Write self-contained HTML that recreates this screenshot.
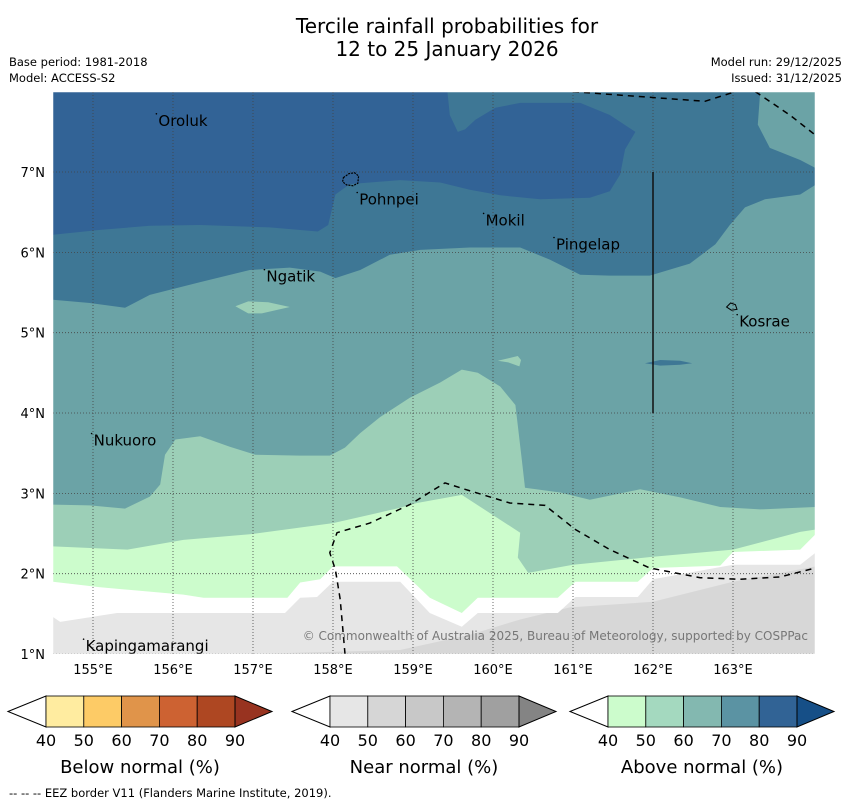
<!DOCTYPE html>
<html><head><meta charset="utf-8">
<style>
body{margin:0;background:#fff;}
svg{display:block;font-family:"DejaVu Sans","Liberation Sans",sans-serif;}
</style></head>
<body>
<svg id="chart" width="850" height="804" viewBox="0 0 850 804" xmlns="http://www.w3.org/2000/svg">
<text x="447" y="33" font-size="20" text-anchor="middle">Tercile rainfall probabilities for</text>
<text x="447" y="56" font-size="20" text-anchor="middle">12 to 25 January 2026</text>
<text x="9" y="66" font-size="11.5">Base period: 1981-2018</text>
<text x="9" y="82" font-size="11.5">Model: ACCESS-S2</text>
<text x="842" y="66" font-size="11.5" text-anchor="end">Model run: 29/12/2025</text>
<text x="842" y="82" font-size="11.5" text-anchor="end">Issued: 31/12/2025</text>
<defs><clipPath id="mapclip"><rect x="53" y="92" width="762" height="562"/></clipPath></defs>
<g id="map" clip-path="url(#mapclip)"></g>
<g id="overlay"></g>
<g id="cbars"></g>
<text x="9" y="797" font-size="11.5">--  --  -- EEZ border V11 (Flanders Marine Institute, 2019).</text>
</svg>
<script>
// ---- data (lon/lat) ----
const lonTicks = [155,156,157,158,159,160,161,162,163];
const latTicks = [1,2,3,4,5,6,7];
const darkGrayRegion = [[156.96,1.0],[158.84,1.05],[159.71,1.24],[160.34,1.43],[160.96,1.58],[162.0,1.65],[163.0,1.9],[164.03,2.09],[164.03,1.0]];
const whiteBottom = [[154.5,1.46],[154.59,1.40],[155.3,1.51],[157.4,1.51],[157.59,1.70],[157.8,1.71],[158.0,1.90],[158.84,1.90],[159.21,1.51],[159.61,1.34],[159.81,1.51],[160.81,1.51],[161.03,1.71],[161.81,1.71],[162.0,1.93],[163.0,2.11],[163.84,2.11],[164.03,2.26]];
const paleGreenBottom = [[154.5,1.9],[155.09,1.83],[156.13,1.74],[156.38,1.70],[157.43,1.70],[157.59,1.89],[157.84,1.93],[158.0,2.09],[158.8,2.09],[159.21,1.70],[159.61,1.51],[159.81,1.70],[160.81,1.70],[161.03,1.90],[161.81,1.90],[162.0,2.07],[162.84,2.10],[163.0,2.27],[163.84,2.30],[164.03,2.49]];
const lightGreenBottom = [[154.5,2.34],[155.43,2.3],[156.13,2.42],[156.96,2.49],[158.0,2.63],[158.84,2.82],[159.05,2.88],[159.61,2.98],[160.34,2.51],[160.31,2.2],[160.44,2.01],[161.0,2.11],[162.0,2.21],[163.0,2.3],[163.84,2.52],[164.03,2.55]];
const tealBottom = [[154.5,2.86],[154.96,2.85],[155.4,2.81],[155.71,2.96],[155.84,3.11],[155.9,3.48],[156.03,3.67],[156.34,3.71],[156.71,3.58],[157.03,3.48],[157.59,3.47],[157.96,3.47],[158.15,3.57],[158.34,3.75],[158.59,3.95],[158.96,4.19],[159.34,4.38],[159.61,4.54],[159.81,4.5],[160.09,4.33],[160.28,4.1],[160.36,3.42],[160.4,3.07],[160.84,3.01],[161.21,2.92],[161.84,3.05],[162.34,2.95],[162.84,2.83],[163.34,2.8],[164.03,2.83]];
const midBlueRegion = [[154.5,5.41],[154.96,5.37],[155.4,5.31],[155.71,5.47],[156.34,5.63],[156.96,5.78],[157.46,5.81],[157.84,5.76],[158.03,5.68],[158.34,5.78],[158.71,5.97],[159.09,6.03],[159.71,6.06],[160.34,6.06],[160.71,5.91],[161.09,5.72],[161.46,5.71],[161.96,5.71],[162.46,5.86],[162.78,6.1],[162.96,6.34],[163.15,6.56],[163.4,6.66],[163.84,6.72],[164.03,6.84],[164.03,7.05],[163.84,7.15],[163.46,7.3],[163.31,7.59],[163.34,8.0],[154.5,8.0]];
const darkBlueRegion = [[154.5,8],[159.43,8],[159.46,7.71],[159.56,7.5],[159.65,7.53],[159.78,7.65],[160.03,7.8],[160.34,7.86],[161.09,7.86],[161.46,7.71],[161.78,7.5],[161.65,7.28],[161.59,6.97],[161.46,6.76],[161.21,6.68],[160.59,6.66],[160.09,6.71],[159.71,6.78],[159.34,6.87],[158.84,6.9],[158.21,6.85],[158.03,6.72],[157.94,6.34],[157.81,6.26],[157.21,6.31],[156.34,6.34],[155.71,6.33],[155.09,6.28],[154.5,6.22]];
const paleBlob = [[156.78,5.33],[156.94,5.39],[157.19,5.38],[157.46,5.32],[157.11,5.24],[156.94,5.24]];
const greenBlob = [[160.06,4.65],[160.31,4.71],[160.35,4.66],[160.33,4.58],[160.19,4.63]];
const blueBlob = [[161.9,4.62],[162.09,4.66],[162.34,4.65],[162.49,4.62],[162.34,4.6],[162.09,4.59]];
const eezMain = [[158.15,1.0],[158.09,1.68],[158.03,2.05],[157.96,2.26],[158.05,2.51],[158.46,2.63],[158.96,2.86],[159.4,3.13],[159.65,3.05],[160.21,2.88],[160.65,2.85],[161.03,2.55],[161.46,2.3],[161.96,2.07],[162.59,1.95],[163.09,1.93],[163.59,1.96],[164.03,2.07]];
const eezTop = [[161.0,8.0],[162.65,7.88],[163.09,8.02]];
const eezRight = [[163.28,8.0],[163.71,7.71],[164.03,7.46]];
const boundaryLine = [[162.0,7.0],[162.0,4.0]];
const islandNames = ["Oroluk","Pohnpei","Mokil","Pingelap","Ngatik","Kosrae","Nukuoro","Kapingamarangi"];
const islandLon = [155.78,158.29,159.87,160.75,157.13,163.04,154.97,154.87];
const islandLat = [7.7,6.72,6.46,6.16,5.76,5.2,3.72,1.16];
const pohnpeiShape = [[158.13,6.93],[158.2,6.98],[158.27,6.99],[158.32,6.95],[158.31,6.86],[158.25,6.83],[158.17,6.84],[158.12,6.88]];
const kosraeShape = [[162.92,5.32],[162.97,5.37],[163.03,5.35],[163.05,5.29],[162.98,5.28]];
// colorbar data
const cbTicks = ["40","50","60","70","80","90"];
const cbTitles = ["Below normal (%)","Near normal (%)","Above normal (%)"];
const cbBelow = ["#ffeca0","#fdcb66","#e0944a","#cd6232","#ae4722","#983320"];
const cbNear = ["#e6e6e6","#d6d6d6","#c8c8c8","#b4b4b4","#a0a0a0","#848484"];
const cbAbove = ["#ccfccc","#a4d9bf","#83b8b0","#5b93a3","#316395","#164f87"];

const NS="http://www.w3.org/2000/svg";
const X = lon => 93 + (lon-155)*80;
const Y = lat => 654 - (lat-1)*80.33;
const map=document.getElementById('map'), ov=document.getElementById('overlay'), cb=document.getElementById('cbars');
function mk(tag, attrs, parent){const e=document.createElementNS(NS,tag);for(const k in attrs)e.setAttribute(k,attrs[k]);parent.appendChild(e);return e;}
const pts = arr => arr.map(p=>X(p[0]).toFixed(1)+','+Y(p[1]).toFixed(1)).join(' ');
function north(arr){return arr.concat([[164.1,arr[arr.length-1][1]],[164.1,8.1],[154.4,8.1],[154.4,arr[0][1]]]);}

let e;
e=mk('rect',{x:53,y:92,width:762,height:562,fill:'#e6e6e6'},map);


e=mk('polygon',{points:pts(darkGrayRegion),fill:'#d7d7d7'},map);


e=mk('polygon',{points:pts(north(whiteBottom)),fill:'#ffffff'},map);


e=mk('polygon',{points:pts(north(paleGreenBottom)),fill:'#ccfccc'},map);


e=mk('polygon',{points:pts(north(lightGreenBottom)),fill:'#9ccfb7'},map);


e=mk('polygon',{points:pts(north(tealBottom)),fill:'#6ba3a6'},map);


e=mk('polygon',{points:pts(midBlueRegion),fill:'#3e7795'},map);


e=mk('polygon',{points:pts(darkBlueRegion),fill:'#326396'},map);


e=mk('polygon',{points:pts(paleBlob),fill:'#9ccfb7'},map);


e=mk('polygon',{points:pts(greenBlob),fill:'#9ccfb7'},map);


e=mk('polygon',{points:pts(blueBlob),fill:'#3e7795'},map);



// grid
lonTicks.forEach(l=>{
  const g=mk('line',{x1:X(l),x2:X(l),y1:92,y2:654,stroke:'#444','stroke-width':0.8,'stroke-dasharray':'1,2'},map);
  
  
  const t=mk('text',{x:X(l),y:674,'font-size':13,'text-anchor':'middle'},ov);
  t.textContent=l+'°E';
  
  
});
latTicks.forEach(l=>{
  const g=mk('line',{x1:53,x2:815,y1:Y(l),y2:Y(l),stroke:'#444','stroke-width':0.8,'stroke-dasharray':'1,2'},map);
  
  
  const t=mk('text',{x:45,y:Y(l)+5,'font-size':13,'text-anchor':'end'},ov);
  t.textContent=l+'°N';
  
  
});

// EEZ
[eezMain,eezTop,eezRight].forEach(a=>{
  const p=mk('polyline',{points:pts(a),fill:'none',stroke:'#000','stroke-width':1.5,'stroke-dasharray':'6,5'},map);
  
  
});
e=mk('polyline',{points:pts(boundaryLine),fill:'none',stroke:'#111','stroke-width':1.5},map);


e=mk('polygon',{points:pts(pohnpeiShape),fill:'none',stroke:'#000','stroke-width':1.2,'stroke-dasharray':'2,1'},map);


e=mk('polygon',{points:pts(kosraeShape),fill:'none',stroke:'#000','stroke-width':1},map);


islandNames.forEach((n,i)=>{
  const t=mk('text',{x:X(islandLon[i])+3,y:Y(islandLat[i])+10,'font-size':15,fill:'#000'},map);
  t.textContent=n;
  
  
  const d=mk('circle',{cx:X(islandLon[i])+1,cy:Y(islandLat[i])-2,r:0.8,fill:'#000'},map);
  
  
});
e=mk('text',{x:808,y:640,'font-size':12,'text-anchor':'end',fill:'#777'},map);
e.textContent='© Commonwealth of Australia 2025, Bureau of Meteorology, supported by COSPPac';



// colorbars
const bars=[[8,cbBelow,140],[292,cbNear,424],[570,cbAbove,702]];
bars.forEach((b,bi)=>{
  const x0=b[0], cols=b[1], x1=x0+38, w=37.8, top=696, bot=727, mid=711.5;
  const g=mk('g',{},cb);
  
  
  mk('polygon',{points:`${x0},${mid} ${x1},${top} ${x1},${bot}`,fill:'#fff',stroke:'#000','stroke-width':1},g);
  for(let i=0;i<5;i++){
    const r=mk('rect',{x:x1+i*w,y:top,width:w,height:bot-top,fill:cols[i],stroke:'#000','stroke-width':0.8},g);
    
    
  }
  const xe=x1+5*w;
  mk('polygon',{points:`${xe},${top} ${xe+37},${mid} ${xe},${bot}`,fill:cols[5],stroke:'#000','stroke-width':1},g);
  cbTicks.forEach((t,i)=>{
    const tx=mk('text',{x:x1+i*w,y:746,'font-size':16,'text-anchor':'middle'},g);
    tx.textContent=t;
    
    
  });
  const tt=mk('text',{x:b[2],y:773,'font-size':18,'text-anchor':'middle'},g);
  tt.textContent=cbTitles[bi];
  
  
});
e=mk('rect',{x:53,y:92,width:762,height:562,fill:'none',stroke:'#fff','stroke-width':0.5},ov);


</script>
</body></html>
